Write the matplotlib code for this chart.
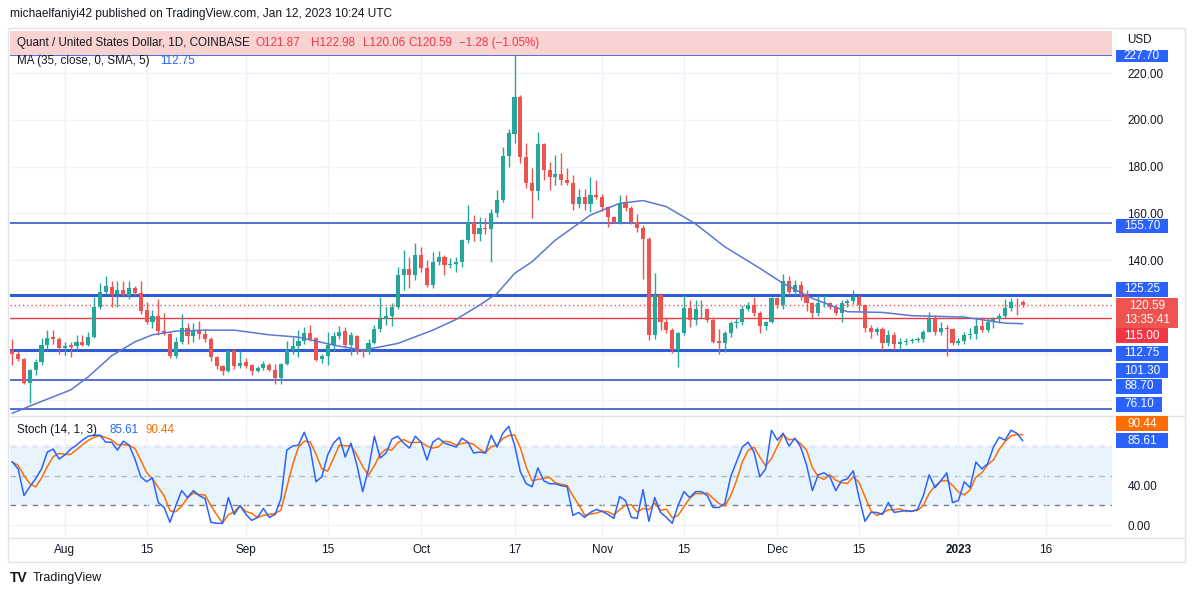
import numpy as np
import pandas as pd
import matplotlib
matplotlib.use('Agg')
import matplotlib.pyplot as plt
import matplotlib.dates as mdates
from matplotlib.patches import Rectangle

plt.rcParams['font.family'] = ['Liberation Sans', 'DejaVu Sans']

W, H = 1194, 597

# ---- data (QNT/USD daily) ----
dates = pd.date_range('2022-07-23', periods=174, freq='D')

opens = [101, 100, 97.5, 87.5, 93, 96.5, 103.5, 107, 106, 102.5,
         103.5, 103, 105, 103.5, 107, 120, 126.5, 128.5, 125.5, 127,
         124.5, 128, 126, 118.5, 113.5, 116, 109.5, 108.5, 99, 105,
         110.8, 107.3, 110.2, 108.2, 106.3, 98.5, 94.5, 92.5, 101, 94.5,
         96.5, 95, 92.5, 93.8, 95.2, 92.8, 89.5, 95.5, 101.5, 103,
         105.3, 108.6, 106.5, 97.5, 98.8, 103.5, 107.5, 109.5, 103.6, 107.5,
         101.5, 100.5, 104.5, 110.3, 114.6, 116, 120, 133.5, 136, 133.6,
         142.2, 136.5, 129.5, 139.3, 141.5, 138, 138.3, 139, 148.6, 155.8,
         151.2, 153.9, 153.5, 160.3, 165.8, 184.5, 194, 210, 184, 173,
         169.7, 189.8, 178.6, 175.5, 177, 174.3, 173, 164, 166.9, 164,
         168, 167, 162.6, 158.3, 156.5, 164.3, 162.2, 156.5, 153.6, 149,
         108, 125, 113.6, 110, 101.3, 108.7, 119.4, 114.4, 118.9, 119,
         114.4, 105.3, 104.6, 108.6, 113, 113.5, 118.9, 120.8, 117.2, 111.8,
         113.5, 123.6, 120.8, 131, 126.5, 129.4, 125.1, 121.8, 117.2, 121.5,
         121.7, 120.1, 117.5, 121.5, 122.6, 124.4, 120.8, 110.8, 109.4, 110.4,
         104.5, 107.9, 104.1, 105, 105.5, 105.8, 106, 109.4, 114.6, 109.4,
         110.8, 110.4, 104.5, 105.5, 107.9, 108.5, 111.8, 110.1, 113.6, 114.6,
         116.1, 119.4, 122.2, 121.87]

highs = [106, 101, 98, 93.5, 97.5, 106.5, 110, 110, 107, 105,
         105, 108, 108, 109, 124, 130, 133, 131, 131, 131,
         131, 129, 131, 122, 118.7, 123.5, 117.5, 109, 107, 117,
         113, 113, 114, 110.5, 107, 99, 95, 101.5, 102, 101,
         98, 95.5, 94.5, 97, 96, 95.7, 96, 105.5, 107, 110,
         111.4, 112, 107, 100, 109, 109, 111.8, 111.5, 109, 108,
         102, 106, 112, 124.4, 120, 121.5, 137, 144.5, 141.2, 147.2,
         145.8, 140, 143.5, 143.9, 142, 140.8, 141.5, 149, 163.6, 159.3,
         158.6, 157.9, 162, 170, 188.6, 196, 227.7, 210.5, 190, 179.3,
         195, 190, 182.2, 185, 186, 179.3, 176.5, 170.3, 170.3, 175.7,
         174.3, 168.3, 163, 159, 167.9, 167.9, 163, 159.7, 155, 150,
         134.6, 126, 115, 111, 109, 125.1, 122.9, 122.9, 122.9, 119.5,
         115.5, 110.4, 109.5, 114, 115, 120.8, 122.2, 124, 118, 114,
         124.4, 124, 134, 133.2, 131.5, 131.2, 127.2, 122, 125, 125,
         122.2, 121, 123, 123.2, 127.2, 125, 121, 112, 111.5, 111.5,
         110.1, 109, 106.5, 106.5, 106.8, 107, 110, 117.9, 116.5, 113.6,
         112, 110.8, 106.8, 109.4, 110.8, 115.8, 115.8, 115, 115.5, 117.2,
         123.2, 123.7, 123.7, 122.98]

lows = [95, 97, 87, 79, 91, 95, 101, 104, 100, 99.4,
        98.5, 101.5, 103, 103, 106.5, 119, 125.5, 120, 120, 124,
        123.5, 125, 117, 112.5, 111, 108, 108, 98, 98, 104,
        104, 105, 106, 105, 97, 93.5, 91, 92, 93.5, 94,
        94, 91, 92, 93, 92.5, 87, 87, 95, 100, 98.6,
        104, 105.5, 97, 96, 95, 101, 106, 102.2, 99.4, 100,
        98.6, 100, 104, 109, 112.2, 111.8, 119, 127, 128, 131.5,
        135, 128.5, 128, 138, 133.6, 136.5, 135, 137.2, 147.5, 148,
        148, 151, 139.3, 158.6, 165, 180, 190, 181.5, 170.8, 157.9,
        165.7, 174.3, 170, 172.2, 172, 172, 161.5, 162.2, 161.5, 160.5,
        166, 161, 154.3, 155.8, 155.5, 161, 155.5, 152, 132, 105.8,
        106, 110, 108.7, 100.4, 94.4, 108, 111.5, 112, 115, 113.7,
        104.4, 99.8, 100.8, 107, 110.8, 112, 118, 116, 108.6, 110,
        113, 119.4, 119, 125, 125, 123, 118, 115, 116, 120,
        119, 116.5, 113.6, 120, 121, 118, 109.4, 106.5, 108, 101.5,
        103, 101.5, 101.5, 103.5, 104.5, 105, 105, 109, 108, 108,
        99, 103.5, 103.7, 104, 106, 106, 109, 109.4, 111, 113,
        115, 118, 116.5, 120.06]

closes = [100, 97.5, 87.5, 93, 96.5, 103.5, 106.5, 106, 102.5, 103.3,
          102.8, 105, 103.5, 107, 120, 126.5, 128.8, 125, 127, 125,
          128, 126, 118, 113.5, 116, 109.5, 108.5, 99, 105, 110.8,
          107.3, 110, 108.5, 106.2, 98.5, 94.5, 92.5, 101, 94.5, 96,
          94.5, 92.5, 94, 95.5, 93, 89.5, 95.5, 101.5, 103, 105.3,
          108.6, 106, 97.3, 98.8, 103.5, 107.5, 109.4, 103.6, 107.8, 100.8,
          100.5, 104.6, 110.3, 114.6, 116, 120, 133.5, 136, 133.6, 142.2,
          136.5, 129.5, 139.3, 141.4, 138, 138.3, 139, 148.6, 155.8, 151.2,
          153.6, 153.2, 160.3, 165.8, 184.6, 194.3, 210, 184, 173, 169.7,
          189.8, 178.6, 175.5, 177, 174.3, 173, 164, 166.9, 164, 167.9,
          167, 162.6, 158.3, 156.5, 164.3, 162.2, 156.5, 153.6, 149, 108,
          125, 113.6, 110.1, 101.3, 108.7, 119.4, 114.4, 118.9, 119.2, 114.4,
          105, 104.6, 108.6, 113.2, 113.6, 118.9, 120.8, 117.2, 111.8, 113.6,
          123.6, 120.8, 131, 126.5, 129.4, 125.1, 121.8, 117.2, 121.5, 121.7,
          120.1, 117.5, 121.5, 122.6, 124.4, 120.8, 110.8, 109.4, 110.4, 104.5,
          107.9, 104.1, 105, 105.5, 105.8, 106.1, 109.4, 114.6, 109.4, 110.8,
          110.4, 104.5, 105.5, 107.9, 108.5, 111.8, 110.1, 113.6, 114.6, 116.1,
          119.4, 122.2, 121.87, 120.59]

# MA(35) read at some candles (index into dates, value)
ma_idx = [0, 3, 10, 13, 17, 21, 24, 28, 33, 38, 44, 49, 55, 60, 66, 72, 76, 80,
          83, 86, 89, 93, 99, 104, 108, 112, 117, 122, 128, 132, 137, 143, 149,
          154, 163, 170, 173]
ma_val = [74.4, 77.5, 84.4, 90, 99, 105, 108, 109.6, 110, 110, 108, 107, 103.6,
          101.4, 104.3, 110, 114.6, 120.7, 125.7, 134.3, 139.3, 148.6, 159.3,
          164.3, 165.5, 162.9, 155.5, 145.7, 136.5, 130, 123.6, 117.9, 117.6,
          116.2, 115.6, 113, 112.75]

# Stoch %K (14,1,3)
stoch_k = [64, 57, 30, 39, 47, 57, 74, 77, 67, 71, 77, 81, 86, 90, 91, 91, 84, 84,
           76, 85, 81, 67, 49, 44, 48, 23, 18, 3, 20, 35, 28, 35, 30, 27, 3, 2, 2,
           28, 11, 20, 11, 5, 8, 17, 8, 11, 27, 76, 80, 81, 94, 78, 44, 49, 71, 83,
           89, 69, 83, 61, 34, 57, 90, 68, 73, 87, 90, 83, 78, 90, 84, 66, 84, 88,
           83, 81, 79, 88, 84, 73, 74, 73, 91, 79, 93, 100, 81, 54, 42, 39, 58, 45,
           42, 42, 40, 39, 10, 13, 8, 13, 16,
           14, 11, 7, 29, 25, 8, 7, 36, 4, 28, 13, 8, 2, 20, 34, 28, 34, 34, 30, 18,
           18, 22, 49, 64, 79, 84, 74, 49, 57, 96, 86, 93, 80, 88, 79, 61, 35, 51,
           53, 49, 35, 45, 47, 55, 28, 4, 13, 13, 11, 23, 13, 14, 15, 14, 16, 30,
           51, 38, 45, 53, 23, 25, 44, 38, 64, 57, 62, 79, 89, 86, 96, 93, 85.61]

levels_thick = [125.25, 101.30]
levels_thin = [227.70, 155.70, 88.70, 76.10]
red_level = 115.00
last_price = 120.59

tick_dates = ['2022-08-01', '2022-08-15', '2022-09-01', '2022-09-15', '2022-10-01',
              '2022-10-17', '2022-11-01', '2022-11-15', '2022-12-01', '2022-12-15',
              '2023-01-01', '2023-01-16']
tick_labels = ['Aug', '15', 'Sep', '15', 'Oct', '17', 'Nov', '15', 'Dec', '15', '2023', '16']

UP, DOWN = '#26a69a', '#ef5350'
BLUE = '#2962ff'
TXT = '#131722'
GRID = '#f0f3fa'

# ---- figure ----
fig = plt.figure(figsize=(W / 100, H / 100), dpi=100)
fig.patch.set_facecolor('white')

def fbox(x0, y0, x1, y1):
    # pixel box (top-left origin) -> figure fraction rect
    return [x0 / W, 1 - y1 / H, (x1 - x0) / W, (y1 - y0) / H]

ax = fig.add_axes(fbox(10, 28, 1112, 415))
ax2 = fig.add_axes(fbox(10, 416, 1112, 537), sharex=ax)

x = mdates.date2num(dates)
o = np.array(opens); h = np.array(highs); l = np.array(lows); c = np.array(closes)
col = np.where(c >= o, UP, DOWN)

ax.vlines(x, l, h, colors=col, lw=1, zorder=3)
body = np.maximum(np.abs(c - o), 0.35)
ax.bar(x, body, bottom=np.minimum(o, c), width=0.7, color=col, edgecolor='none', zorder=4)

ax.plot(mdates.date2num(dates[ma_idx]), ma_val, color='#5a78d2', lw=1.1, zorder=5)

for lv in levels_thick:
    ax.axhline(lv, color='#2f5bd6', lw=2.2, zorder=2)
for lv in levels_thin:
    ax.axhline(lv, color='#3558c8', lw=1.2, zorder=2)
ax.axhline(red_level, color='#f23645', lw=1, zorder=2)
ax.axhline(last_price, color=DOWN, lw=1, ls=(0, (1, 2)), zorder=2)

x0 = x[0] - (12.3 - 10) / 5.84
x1 = x[0] + (1112 - 12.3) / 5.84
ax.set_xlim(x0, x1)
ax.set_ylim(220 - (415 - 73.3) / 2.335, 220 + (73.3 - 28) / 2.335)

tx = mdates.date2num(pd.to_datetime(tick_dates))
ax.set_xticks(tx)
ax.tick_params(axis='x', length=0, labelbottom=False)
ax.set_yticks(np.arange(80, 221, 20))
ax.set_yticklabels(['%.2f' % v if v >= 140 else '' for v in np.arange(80, 221, 20)])
ax.yaxis.tick_right()
ax.tick_params(axis='y', length=0, pad=11, labelsize=8.5, labelcolor=TXT)
ax.grid(True, color=GRID, lw=1, zorder=0)
for s in ax.spines.values():
    s.set_visible(False)

# stoch pane
ax2.axhspan(20, 80, color='#2196f3', alpha=0.1, lw=0, zorder=0)
ax2.axhline(80, color='#787b86', lw=1, ls=(0, (4, 4)), zorder=1)
ax2.axhline(50, color='#787b86', lw=1, ls=(0, (4, 4)), alpha=0.5, zorder=1)
ax2.axhline(20, color='#787b86', lw=1, ls=(0, (4, 4)), zorder=1)
k = pd.Series(stoch_k)
d = k.rolling(3, min_periods=1).mean()
ax2.plot(x, d, color='#ff6d00', lw=1.1, zorder=3)
ax2.plot(x, k, color=BLUE, lw=1.1, zorder=4)
ax2.set_ylim((525.3 - 537) / 0.99, (525.3 - 416) / 0.99)
ax2.set_yticks([0, 40, 80])
ax2.set_yticklabels(['0.00', '40.00', ''])   # 80.00 sits under the 85.61 tag
ax2.yaxis.tick_right()
ax2.tick_params(axis='y', length=0, pad=11, labelsize=8.5, labelcolor=TXT)
ax2.set_xticks(tx)
ax2.set_xticklabels(tick_labels)
ax2.tick_params(axis='x', length=0, pad=5, labelsize=8.5, labelcolor=TXT)
for t in ax2.get_xticklabels():
    if t.get_text() == '2023':
        t.set_fontweight('bold')
ax2.grid(True, color=GRID, lw=1, zorder=0)
for s in ax2.spines.values():
    s.set_visible(False)
ax2.set_xlim(x0, x1)

# pane separators and outer frame
fig.add_artist(plt.Line2D([10 / W, 1185 / W], [1 - 415.5 / H] * 2, color='#e0e3eb', lw=1))
fig.add_artist(plt.Line2D([10 / W, 1185 / W], [1 - 537.5 / H] * 2, color='#e0e3eb', lw=1))
fig.add_artist(Rectangle((8 / W, 1 - 562 / H), 1177 / W, 534 / H, transform=fig.transFigure,
                         fill=False, ec='#e0e3eb', lw=1))

# header
fig.add_artist(Rectangle(fbox(10, 31, 1112, 55)[:2], 1102 / W, 24 / H, transform=fig.transFigure,
                         fc='#f9d2d2', ec='none', zorder=6))
fig.text(10 / W, 1 - 14 / H, 'michaelfaniyi42 published on TradingView.com, Jan 12, 2023 10:24 UTC',
         fontsize=8.6, color=TXT, va='center')
fig.text(17 / W, 1 - 43 / H, 'Quant / United States Dollar, 1D, COINBASE', fontsize=8.4, color=TXT,
         va='center', zorder=7)
for xp, s in [(255, 'O121.87'), (311, 'H122.98'), (363, 'L120.06'), (408, 'C120.59'),
              (459, '\u22121.28 (\u22121.05%)')]:
    fig.text(xp / W, 1 - 43 / H, s, fontsize=8.4, color='#f23645', va='center', zorder=7)
fig.text(17 / W, 1 - 61 / H, 'MA (35, close, 0, SMA, 5)', fontsize=8.4, color=TXT, va='center')
fig.text(160 / W, 1 - 61 / H, '112.75', fontsize=8.4, color=BLUE, va='center')
fig.text(17 / W, 1 - 430 / H, 'Stoch (14, 1, 3)', fontsize=8.4, color=TXT, va='center')
fig.text(109 / W, 1 - 430 / H, '85.61', fontsize=8.4, color=BLUE, va='center')
fig.text(146 / W, 1 - 430 / H, '90.44', fontsize=8.4, color='#ff6d00', va='center')
fig.text(1127 / W, 1 - 40 / H, 'USD', fontsize=8.4, color=TXT, va='center')

# price tags on the right scale
def tag(a, value, text, color, dy=0, width=52, hgt=15):
    yp = H - a.transData.transform((0, value))[1] + dy
    fig.add_artist(Rectangle(fbox(1116, yp - hgt / 2, 1116 + width, yp + hgt / 2)[:2], width / W, hgt / H,
                             transform=fig.transFigure, fc=color, ec='none', zorder=20))
    fig.text((1116 + width / 2) / W, 1 - yp / H, text, ha='center', va='center', color='white',
             fontsize=8.5, zorder=21, linespacing=1.15)

tag(ax, 227.70, '227.70', BLUE, dy=1, hgt=12)
tag(ax, 155.70, '155.70', BLUE, dy=3, hgt=14)
tag(ax, 125.25, '125.25', BLUE, dy=-5.5)
tag(ax, 120.59, '120.59\n13:35:41', '#ef5350', dy=7.5, width=62, hgt=30)
tag(ax, 115.00, '115.00', '#f23645', dy=17.5)
tag(ax, 112.75, '112.75', BLUE, dy=29.5)
tag(ax, 101.30, '101.30', BLUE, dy=20.5)
tag(ax, 88.70, '88.70', BLUE, dy=6.5, width=46)
tag(ax, 76.10, '76.10', BLUE, dy=-5, width=46)
tag(ax2, 90.44, '90.44', '#ff6d00', dy=-12)
tag(ax2, 85.61, '85.61', BLUE)

# footer logo
fig.text(10 / W, 1 - 578 / H, 'TV', fontsize=10, fontweight='bold', color=TXT, va='center')
fig.text(33 / W, 1 - 578 / H, 'TradingView', fontsize=9, color=TXT, va='center')

fig.savefig('out.png', dpi=100, facecolor='white')
